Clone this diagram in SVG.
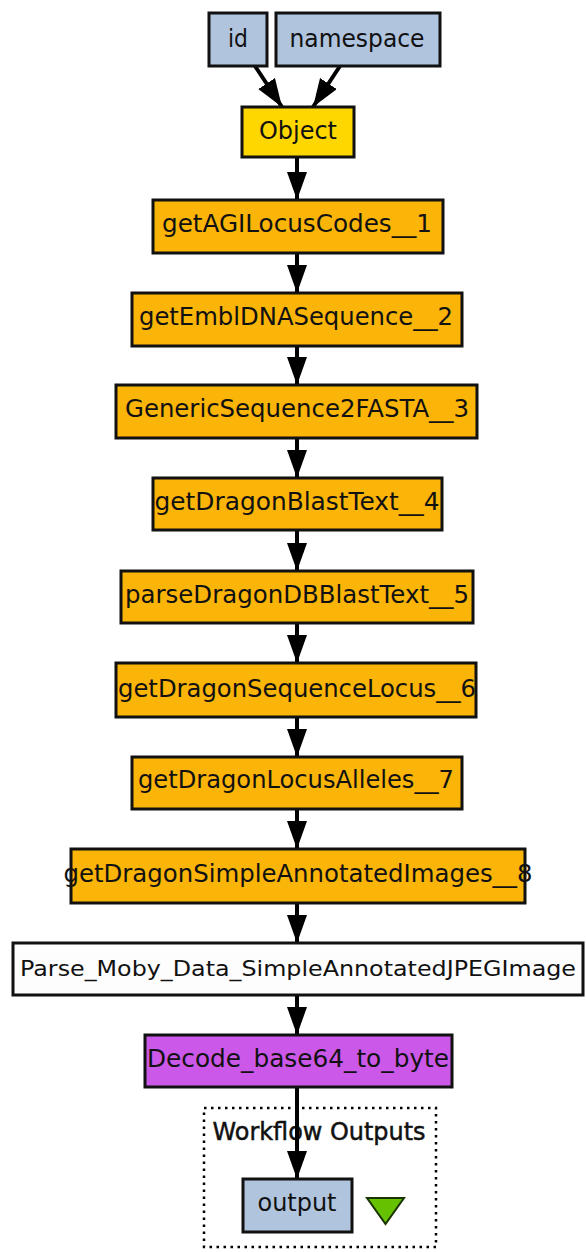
<svg xmlns="http://www.w3.org/2000/svg" width="586" height="1252" viewBox="0 0 586 1252">
<style>
.n{stroke:#111;stroke-width:3}
.in{fill:#b0c4de}
.obj{fill:#ffd700}
.svc{fill:#fbb408}
.loc{fill:#fdfdfd}
.dec{fill:#cb58e8}
text{font-family:"DejaVu Sans","Verdana",sans-serif;font-size:25px;fill:#111;text-anchor:middle}
.e{stroke:#000;stroke-width:4;fill:none;marker-end:url(#ah)}
</style>
<defs>
<marker id="ah" markerUnits="userSpaceOnUse" markerWidth="32" markerHeight="24" refX="28" refY="10" orient="auto">
<path d="M0,0 L28,10 L0,20 Z" fill="#000"/>
</marker>
</defs>
<rect x="0" y="0" width="586" height="1252" fill="#fff"/>
<g id="workflow-outputs">
<rect x="204" y="1108" width="232" height="139" fill="none" stroke="#000" stroke-width="2.5" stroke-dasharray="2.5,4.5"/>
<text x="319" y="1140" textLength="213" lengthAdjust="spacingAndGlyphs" style="font-size:25px;stroke:#111;stroke-width:0.5">Workflow Outputs</text>
</g>
<g id="connectors">
<line class="e" x1="255" y1="66" x2="282" y2="107"/>
<line class="e" x1="340" y1="66" x2="313" y2="107"/>
<line class="e" x1="297" y1="157" x2="297" y2="200"/>
<line class="e" x1="297" y1="253" x2="297" y2="293"/>
<line class="e" x1="297" y1="346" x2="297" y2="385"/>
<line class="e" x1="297" y1="438" x2="297" y2="478"/>
<line class="e" x1="297" y1="530" x2="297" y2="571"/>
<line class="e" x1="297" y1="623" x2="297" y2="663"/>
<line class="e" x1="297" y1="717" x2="297" y2="757"/>
<line class="e" x1="297" y1="809" x2="297" y2="849"/>
<line class="e" x1="297" y1="903" x2="297" y2="943"/>
<line class="e" x1="297" y1="995" x2="297" y2="1035"/>
<line class="e" x1="297" y1="1087" x2="297" y2="1179"/>
</g>
<g id="id"><rect class="n in" x="209" y="13" width="58" height="53"/><text x="238" y="47" textLength="20" lengthAdjust="spacingAndGlyphs">id</text></g>
<g id="namespace"><rect class="n in" x="276" y="13" width="164" height="53"/><text x="357" y="47" textLength="135" lengthAdjust="spacingAndGlyphs">namespace</text></g>
<g id="Object"><rect class="n obj" x="242" y="107" width="112" height="50"/><text x="298" y="139" textLength="78" lengthAdjust="spacingAndGlyphs">Object</text></g>
<g id="getAGILocusCodes__1"><rect class="n svc" x="153" y="200" width="290" height="53"/><text x="297" y="232" textLength="270" lengthAdjust="spacingAndGlyphs">getAGILocusCodes__1</text></g>
<g id="getEmblDNASequence__2"><rect class="n svc" x="132" y="293" width="330" height="53"/><text x="296" y="325" textLength="314" lengthAdjust="spacingAndGlyphs">getEmblDNASequence__2</text></g>
<g id="GenericSequence2FASTA__3"><rect class="n svc" x="116" y="385" width="361" height="53"/><text x="297" y="417" textLength="344" lengthAdjust="spacingAndGlyphs">GenericSequence2FASTA__3</text></g>
<g id="getDragonBlastText__4"><rect class="n svc" x="153" y="478" width="289" height="52"/><text x="297" y="510" textLength="285" lengthAdjust="spacingAndGlyphs">getDragonBlastText__4</text></g>
<g id="parseDragonDBBlastText__5"><rect class="n svc" x="121" y="571" width="352" height="52"/><text x="297" y="603" textLength="344" lengthAdjust="spacingAndGlyphs">parseDragonDBBlastText__5</text></g>
<g id="getDragonSequenceLocus__6"><rect class="n svc" x="116" y="663" width="360" height="54"/><text x="297" y="697" textLength="358" lengthAdjust="spacingAndGlyphs">getDragonSequenceLocus__6</text></g>
<g id="getDragonLocusAlleles__7"><rect class="n svc" x="132" y="757" width="330" height="52"/><text x="296" y="788" textLength="316" lengthAdjust="spacingAndGlyphs">getDragonLocusAlleles__7</text></g>
<g id="getDragonSimpleAnnotatedImages__8"><rect class="n svc" x="71" y="849" width="454" height="54"/><text x="298" y="882" textLength="469" lengthAdjust="spacingAndGlyphs">getDragonSimpleAnnotatedImages__8</text></g>
<g id="Parse_Moby_Data_SimpleAnnotatedJPEGImage"><rect class="n loc" x="13" y="943" width="570" height="52"/><text x="298" y="976" textLength="556" lengthAdjust="spacingAndGlyphs" style="font-size:22px">Parse_Moby_Data_SimpleAnnotatedJPEGImage</text></g>
<g id="Decode_base64_to_byte"><rect class="n dec" x="145" y="1035" width="307" height="52"/><text x="298" y="1067" textLength="302" lengthAdjust="spacingAndGlyphs">Decode_base64_to_byte</text></g>
<g id="output"><rect class="n in" x="243" y="1179" width="109" height="53"/><text x="297" y="1211" textLength="79" lengthAdjust="spacingAndGlyphs">output</text></g>
<g id="output-marker"><path d="M367,1198 L404,1198 L385.5,1224 Z" fill="#66c200" stroke="#1a3300" stroke-width="2"/></g>
</svg>
